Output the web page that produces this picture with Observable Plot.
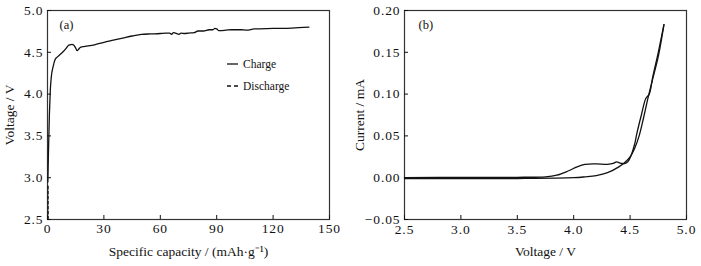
<!DOCTYPE html>
<html><head><meta charset="utf-8">
<script src="https://cdn.jsdelivr.net/npm/d3@7"></script>
<script src="https://cdn.jsdelivr.net/npm/@observablehq/plot@0.6"></script>
<style>
body{margin:0;background:#fff;}
#wrap{display:flex;width:701px;height:266px;position:relative;font-family:"Liberation Serif","Times New Roman",Times,serif;overflow:hidden;}
#wrap svg text{font-family:"Liberation Serif","Times New Roman",Times,serif;}
#wrap g[aria-label$="tick label"] text{letter-spacing:0.9px;}
#legend{position:absolute;left:227px;top:53px;font-size:11.5px;line-height:22px;color:#111;}
#legend div{display:flex;align-items:center;}
#legend svg{margin-right:5px;}
</style></head><body><div id="wrap"></div>
<script>
// Panel (a): charge curve
const capacity = [0.2,0.5,1,1.5,2,3,4,5,6,8,10,11,12,13,14,15,15.8,16.5,17.5,20,25,30,35,40,45,50,55,60,63,65,66,67,68,70,71,73,75,78,80,83,86,88,89,90,91,92,95,98,100,103,106,110,120,130,139];
const chargeV = [2.95,3.3,3.75,4.05,4.2,4.33,4.41,4.44,4.46,4.5,4.55,4.58,4.59,4.595,4.585,4.55,4.52,4.535,4.56,4.57,4.59,4.62,4.645,4.67,4.695,4.715,4.72,4.725,4.73,4.73,4.715,4.735,4.73,4.715,4.73,4.725,4.73,4.735,4.755,4.755,4.77,4.77,4.785,4.78,4.76,4.76,4.765,4.77,4.77,4.77,4.765,4.78,4.785,4.79,4.8];
// discharge (very short)
const dischargeCap = [0.3,0.35];
const dischargeV = [2.9,2.5];
const capTicks = [0,30,60,90,120,150];
const voltTicks = [2.5,3.0,3.5,4.0,4.5,5.0];

// Panel (b): CV curves
const fwdV = [2.5,3.0,3.5,3.75,3.85,3.95,4.03,4.1,4.2,4.3,4.35,4.38,4.41,4.45,4.48,4.51,4.54,4.56,4.6,4.64,4.67,4.7,4.75,4.8];
const fwdI = [0.0,0.0005,0.0005,0.001,0.003,0.008,0.013,0.016,0.0165,0.016,0.017,0.019,0.0175,0.017,0.019,0.027,0.04,0.053,0.075,0.095,0.1,0.12,0.15,0.183];
const revV = [4.8,4.75,4.7,4.66,4.62,4.58,4.54,4.5,4.45,4.4,4.3,4.2,4.1,4.0,3.5,3.0,2.5];
const revI = [0.183,0.145,0.118,0.096,0.072,0.05,0.035,0.025,0.018,0.013,0.006,0.0025,0.001,0.0,-0.001,-0.0012,-0.001];
const cvVTicks = [2.5,3.0,3.5,4.0,4.5,5.0];
const cvITicks = [-0.05,0.00,0.05,0.10,0.15,0.20];

const charge = capacity.map((c,i)=>({x:c,y:chargeV[i]}));
const discharge = dischargeCap.map((c,i)=>({x:c,y:dischargeV[i]}));
const fwd = fwdV.map((v,i)=>({x:v,y:fwdI[i]}));
const rev = revV.map((v,i)=>({x:v,y:revI[i]}));

const style = {fontFamily:'"Liberation Serif","Times New Roman",Times,serif', fontSize:"13px", background:"#fff", color:"#111", overflow:"visible"};

const a = Plot.plot({
  width:350, height:266, marginLeft:47, marginRight:21, marginTop:10, marginBottom:47,
  style,
  x:{domain:[0,150]}, y:{domain:[2.5,5]},
  marks:[
    Plot.frame({stroke:"#333", strokeWidth:1.2}),
    Plot.axisX({ticks:capTicks, tickFormat:d3.format("d"), tickSize:-4, tickPadding:8, fontSize:13.5, label:"Specific capacity / (mAh·g⁻¹)", labelArrow:"none", labelAnchor:"center", labelOffset:36}),
    Plot.axisY({ticks:voltTicks, tickFormat:d3.format(".1f"), tickSize:-4, tickPadding:8, fontSize:13.5, label:"Voltage / V", labelArrow:"none", labelAnchor:"center", labelOffset:43}),
    Plot.line(charge, {x:"x", y:"y", stroke:"#111", strokeWidth:1.3, curve:"monotone-x"}),
    Plot.line(discharge, {x:"x", y:"y", stroke:"#111", strokeWidth:1.3, strokeDasharray:"3,2"}),
    Plot.text(["(a)"], {frameAnchor:"top-left", dx:12, dy:10, fontSize:12.5})
  ]
});

const b = Plot.plot({
  width:351, height:266, marginLeft:54, marginRight:15, marginTop:10, marginBottom:47,
  style,
  x:{domain:[2.5,5]}, y:{domain:[-0.05,0.2]},
  marks:[
    Plot.frame({stroke:"#333", strokeWidth:1.2}),
    Plot.axisX({ticks:cvVTicks, tickFormat:d3.format(".1f"), tickSize:-4, tickPadding:9, fontSize:13.5, label:"Voltage / V", labelArrow:"none", labelAnchor:"center", labelOffset:36}),
    Plot.axisY({ticks:cvITicks, tickFormat:d3.format(".2f"), tickSize:-4, tickPadding:8, fontSize:13.5, label:"Current / mA", labelArrow:"none", labelAnchor:"center", labelOffset:50}),
    Plot.line(fwd, {x:"x", y:"y", stroke:"#111", strokeWidth:1.3, curve:"catmull-rom"}),
    Plot.line(rev, {x:"x", y:"y", stroke:"#111", strokeWidth:1.3, curve:"catmull-rom"}),
    Plot.text(["(b)"], {frameAnchor:"top-left", dx:14, dy:10, fontSize:12.5})
  ]
});

const wrap = document.getElementById("wrap");
wrap.append(a, b);
const leg = document.createElement("div");
leg.id = "legend";
leg.innerHTML = '<div><svg width="11" height="4"><line x1="0" x2="11" y1="2" y2="2" stroke="#111" stroke-width="1.3"/></svg>Charge</div>' +
  '<div><svg width="11" height="4"><line x1="0" x2="11" y1="2" y2="2" stroke="#111" stroke-width="1.3" stroke-dasharray="4,3"/></svg>Discharge</div>';
wrap.append(leg);
</script></body></html>
